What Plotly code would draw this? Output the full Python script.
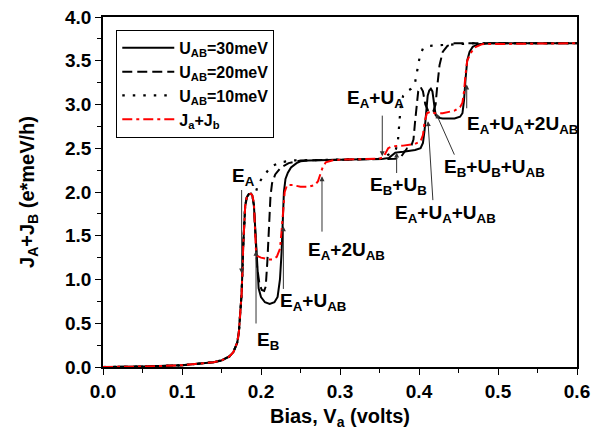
import plotly.graph_objects as go

# ---- data ----
v_rise = [0.0, 0.05, 0.1, 0.12, 0.14, 0.15, 0.16, 0.165, 0.17, 0.172, 0.174, 0.1755, 0.1776, 0.179, 0.18, 0.182, 0.1845, 0.1873, 0.189]
j_rise = [0.0, 0.005, 0.02, 0.035, 0.055, 0.075, 0.12, 0.17, 0.28, 0.4, 0.6, 0.84, 1.41, 1.7, 1.84, 1.94, 1.975, 1.98, 1.96]

v_30 = [0.191, 0.1925, 0.1935, 0.195, 0.197, 0.2, 0.205, 0.211, 0.217, 0.221, 0.224, 0.226, 0.2275, 0.229, 0.231, 0.234, 0.238, 0.245, 0.25, 0.26, 0.3, 0.34, 0.355, 0.362, 0.366, 0.37, 0.38, 0.395, 0.402, 0.405, 0.407, 0.409, 0.411, 0.413, 0.415, 0.417, 0.419, 0.421, 0.424, 0.43, 0.445, 0.452, 0.455, 0.457, 0.459, 0.461, 0.464, 0.468, 0.475, 0.49, 0.6]
j_30 = [1.85, 1.6, 1.33, 1.1, 0.9, 0.8, 0.74, 0.72, 0.74, 0.8, 1.0, 1.3, 1.7, 2.0, 2.15, 2.22, 2.28, 2.33, 2.35, 2.36, 2.37, 2.375, 2.38, 2.39, 2.42, 2.45, 2.46, 2.48, 2.5, 2.56, 2.7, 2.95, 3.1, 3.16, 3.18, 3.15, 3.0, 2.88, 2.85, 2.84, 2.84, 2.86, 2.9, 3.05, 3.3, 3.5, 3.6, 3.66, 3.69, 3.7, 3.7]

v_20 = [0.191, 0.1925, 0.1935, 0.195, 0.198, 0.201, 0.204, 0.206, 0.208, 0.21, 0.212, 0.214, 0.218, 0.225, 0.235, 0.25, 0.3, 0.37, 0.377, 0.381, 0.385, 0.39, 0.393, 0.395, 0.397, 0.399, 0.402, 0.405, 0.408, 0.412, 0.418, 0.421, 0.423, 0.426, 0.43, 0.436, 0.445, 0.6]
j_20 = [1.85, 1.6, 1.35, 1.15, 0.95, 0.88, 0.87, 0.92, 1.2, 1.6, 1.95, 2.1, 2.2, 2.28, 2.33, 2.36, 2.37, 2.38, 2.4, 2.45, 2.5, 2.52, 2.6, 2.8, 3.0, 3.15, 3.2, 3.15, 3.0, 2.92, 2.92, 3.0, 3.2, 3.45, 3.6, 3.67, 3.7, 3.7]

v_10 = [0.19, 0.193, 0.196, 0.2, 0.205, 0.21, 0.215, 0.225, 0.24, 0.3, 0.355, 0.36, 0.365, 0.37, 0.373, 0.375, 0.377, 0.38, 0.385, 0.39, 0.395, 0.398, 0.401, 0.405, 0.412, 0.43, 0.47, 0.6]
j_10 = [1.96, 1.98, 2.08, 2.14, 2.2, 2.26, 2.3, 2.34, 2.36, 2.37, 2.38, 2.42, 2.45, 2.47, 2.55, 2.8, 3.0, 3.1, 3.15, 3.18, 3.25, 3.4, 3.55, 3.64, 3.67, 3.68, 3.7, 3.7]

v_sum = [0.191, 0.1925, 0.1935, 0.195, 0.2, 0.21, 0.215, 0.22, 0.224, 0.226, 0.228, 0.23, 0.233, 0.24, 0.25, 0.26, 0.268, 0.272, 0.275, 0.278, 0.282, 0.29, 0.3, 0.35, 0.355, 0.358, 0.361, 0.365, 0.38, 0.395, 0.402, 0.405, 0.407, 0.41, 0.415, 0.42, 0.43, 0.445, 0.452, 0.455, 0.457, 0.459, 0.461, 0.465, 0.47, 0.48, 0.6]
j_sum = [1.88, 1.6, 1.35, 1.27, 1.25, 1.23, 1.23, 1.26, 1.35, 1.55, 1.8, 2.0, 2.08, 2.08, 2.06, 2.06, 2.08, 2.12, 2.2, 2.28, 2.34, 2.36, 2.37, 2.38, 2.4, 2.45, 2.5, 2.52, 2.53, 2.55, 2.58, 2.65, 2.8, 2.9, 2.92, 2.9, 2.9, 2.93, 2.97, 3.02, 3.15, 3.35, 3.5, 3.58, 3.65, 3.69, 3.7]

series_names = ["U<sub>AB</sub>=30meV", "U<sub>AB</sub>=20meV", "U<sub>AB</sub>=10meV", "J<sub>a</sub>+J<sub>b</sub>"]

x_ticks = [0.0, 0.1, 0.2, 0.3, 0.4, 0.5, 0.6]
y_ticks = [0.0, 0.5, 1.0, 1.5, 2.0, 2.5, 3.0, 3.5, 4.0]

# annotation labels: (text, label x, label y, arrow head x, head y, tail x, tail y)
labels = [
    ("E<sub>A</sub>", 0.1608, 2.17, 0.1755, 1.07, 0.1755, 2.04),
    ("E<sub>B</sub>", 0.1924, 0.30, 0.1937, 1.33, 0.1937, 0.48),
    ("E<sub>A</sub>+U<sub>AB</sub>", 0.2215, 0.74, 0.2283, 1.61, 0.2283, 0.875),
    ("E<sub>A</sub>+2U<sub>AB</sub>", 0.257, 1.33, 0.2772, 2.18, 0.2772, 1.53),
    ("E<sub>A</sub>+U<sub>A</sub>", 0.306, 3.06, 0.3535, 2.41, 0.3535, 2.89),
    ("E<sub>B</sub>+U<sub>B</sub>", 0.335, 2.07, 0.3717, 2.45, 0.3717, 2.20),
    ("E<sub>A</sub>+U<sub>A</sub>+U<sub>AB</sub>", 0.367, 1.75, 0.4114, 2.81, 0.4177, 1.89),
    ("E<sub>B</sub>+U<sub>B</sub>+U<sub>AB</sub>", 0.429, 2.28, 0.4215, 2.90, 0.4456, 2.41),
    ("E<sub>A</sub>+U<sub>A</sub>+2U<sub>AB</sub>", 0.458, 2.77, 0.4604, 3.23, 0.4604, 2.94),
]

FONT = "Liberation Sans, Arial, sans-serif"

fig = go.Figure()
styles = [
    dict(color="black", width=2, dash="solid"),
    dict(color="black", width=2, dash="10px,5px"),
    dict(color="black", width=2.2, dash="2.5px,8px"),
    dict(color="#ff0000", width=2, dash="10px,4px,3px,4px"),
]
curves = [(v_30, j_30), (v_20, j_20), (v_10, j_10), (v_sum, j_sum)]
for (vs, js), name, st in zip(curves, series_names, styles):
    fig.add_trace(go.Scatter(x=v_rise + vs, y=j_rise + js, mode="lines", name=name, line=st))

annotations = []
for text, lx, ly, hx, hy, tx, ty in labels:
    annotations.append(dict(x=hx, y=hy, ax=tx, ay=ty, xref="x", yref="y", axref="x", ayref="y",
                            text="", showarrow=True, arrowhead=2, arrowsize=1, arrowwidth=1,
                            arrowcolor="#333333", standoff=0, startstandoff=0))
    annotations.append(dict(x=lx, y=ly, xref="x", yref="y", text=text, showarrow=False,
                            xanchor="left", yanchor="middle",
                            font=dict(family=FONT, size=19, color="black", weight="bold")))

# page body adds an 8px offset, so the figure is 600x431 with margins shifted accordingly
fig.update_layout(
    width=600, height=431,
    margin=dict(l=95, r=31, t=9, b=72),
    paper_bgcolor="white", plot_bgcolor="white",
    font=dict(family=FONT, size=19, color="black", weight="bold"),
    showlegend=True,
    legend=dict(x=0.028, y=0.963, xanchor="left", yanchor="top",
                bordercolor="black", borderwidth=1, bgcolor="white",
                font=dict(family=FONT, size=16, color="black", weight="bold"),
                tracegroupgap=0, itemwidth=52,
                entrywidth=112, entrywidthmode="pixels"),
    annotations=annotations,
)
fig.update_xaxes(range=[0, 0.6], tickvals=x_ticks, ticktext=[f"{t:.1f}" for t in x_ticks],
                 automargin=False, ticklabeloverflow="allow",
                 showline=True, linecolor="black", linewidth=1.5, mirror=True,
                 ticks="outside", ticklen=6, tickwidth=1.2, tickcolor="black",
                 minor=dict(ticks="outside", ticklen=4, dtick=0.05, tickcolor="black", tickwidth=1),
                 showgrid=False, zeroline=False,
                 title=dict(text="Bias, V<sub>a</sub> (volts)", standoff=8,
                            font=dict(family=FONT, size=20, weight="bold")),
                 tickfont=dict(family=FONT, size=19, weight="bold"))
fig.update_yaxes(range=[0, 4.0], tickvals=y_ticks, ticktext=[f"{t:.1f}" for t in y_ticks],
                 automargin=False, ticklabeloverflow="allow",
                 showline=True, linecolor="black", linewidth=1.5, mirror=True,
                 ticks="outside", ticklen=6, tickwidth=1.2, tickcolor="black",
                 minor=dict(ticks="outside", ticklen=4, dtick=0.25, tickcolor="black", tickwidth=1),
                 showgrid=False, zeroline=False,
                 title=dict(text="J<sub>A</sub>+J<sub>B</sub> (e*meV/h)", standoff=25,
                            font=dict(family=FONT, size=20, weight="bold")),
                 tickfont=dict(family=FONT, size=19, weight="bold"))

fig.write_html("out.html")
